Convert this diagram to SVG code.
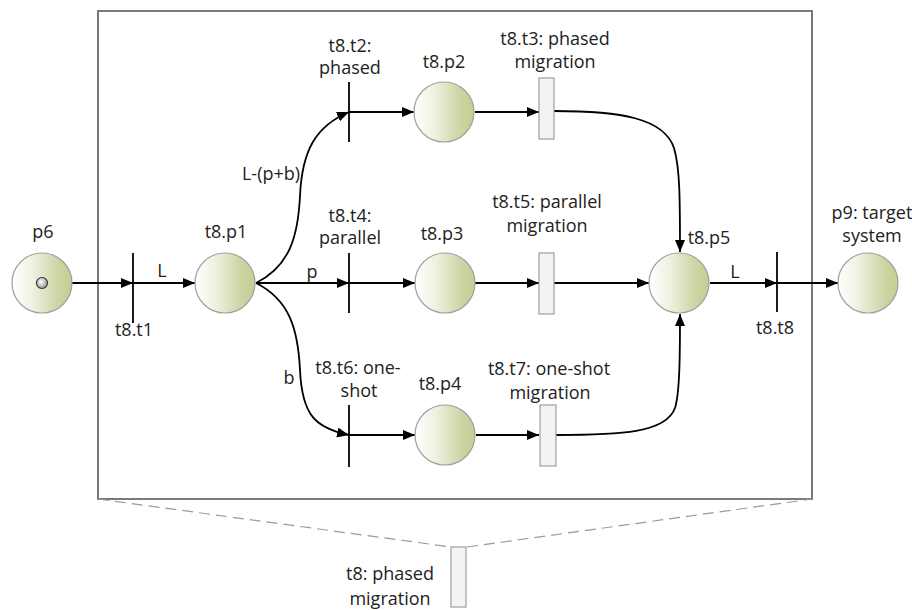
<svg xmlns="http://www.w3.org/2000/svg" width="912" height="610" viewBox="0 0 912 610">
  <defs>
    <linearGradient id="placeFill" x1="0" y1="0" x2="1" y2="0">
      <stop offset="0" stop-color="#ffffff"/>
      <stop offset="0.35" stop-color="#eef1e0"/>
      <stop offset="0.75" stop-color="#cdd6a6"/>
      <stop offset="1" stop-color="#c3cd92"/>
    </linearGradient>
    <radialGradient id="tokenFill" cx="0.4" cy="0.4" r="0.7">
      <stop offset="0" stop-color="#ffffff"/>
      <stop offset="1" stop-color="#8a8a8a"/>
    </radialGradient>
    <marker id="arrow" viewBox="0 0 12 10" refX="12" refY="5" markerWidth="12" markerHeight="10" markerUnits="userSpaceOnUse" orient="auto">
      <path d="M0,0 L12,5 L0,10 z" fill="#000"/>
    </marker>
    <style>
      .place { fill: url(#placeFill); stroke: #a0a0a0; stroke-width: 1.2; }
      .bar { stroke: #000; stroke-width: 1.8; }
      .rect { fill: #f3f3f3; stroke: #a0a0a0; stroke-width: 1.2; }
      .arc { fill: none; stroke: #000; stroke-width: 1.8; }
      .lbl { font-family: "Open Sans", "Liberation Sans", sans-serif; font-size: 18px; fill: #222; text-anchor: middle; }
      .frame { fill: none; stroke: #7a7a7a; stroke-width: 2; }
      .zoom { fill: none; stroke: #9a9a9a; stroke-width: 1.2; stroke-dasharray: 11 6; }
    </style>
  </defs>

  <!-- subnet frame and zoom-out lines to t8 -->
  <rect class="frame" x="98" y="11" width="714" height="488"/>
  <g id="zoom-lines">
    <path class="zoom" d="M98,499 L451,547"/>
    <path class="zoom" d="M467,547 L812,499"/>
  </g>

  <!-- connectors -->
  <g id="connectors">
    <path class="arc" d="M72,283 L133,283" marker-end="url(#arrow)"/>
    <path class="arc" d="M133,283 L195,283" marker-end="url(#arrow)"/>
    <path class="arc" d="M256,283 C290,266 298,236 300,196 C302,150 316,126 349,112" marker-end="url(#arrow)"/>
    <path class="arc" d="M256,283 L349,283" marker-end="url(#arrow)"/>
    <path class="arc" d="M256,283 C290,300 298,330 300,370 C302,416 316,428 349,435" marker-end="url(#arrow)"/>
    <path class="arc" d="M349,112 L414,112" marker-end="url(#arrow)"/>
    <path class="arc" d="M349,283 L415,283" marker-end="url(#arrow)"/>
    <path class="arc" d="M349,435 L415,435" marker-end="url(#arrow)"/>
    <path class="arc" d="M475,112 L539,112" marker-end="url(#arrow)"/>
    <path class="arc" d="M475,283 L539,283" marker-end="url(#arrow)"/>
    <path class="arc" d="M476,435 L539,435" marker-end="url(#arrow)"/>
    <path class="arc" d="M554,111 C620,111 664,118 674,148 C680,168 680,200 680,252" marker-end="url(#arrow)"/>
    <path class="arc" d="M554,283 L649,283" marker-end="url(#arrow)"/>
    <path class="arc" d="M556,435 C620,435 666,433 675,408 C680,392 680,350 680,314" marker-end="url(#arrow)"/>
    <path class="arc" d="M710,283 L777,283" marker-end="url(#arrow)"/>
    <path class="arc" d="M777,283 L838,283" marker-end="url(#arrow)"/>
    <text class="lbl" x="162" y="277">L</text>
    <text class="lbl" x="271" y="180">L-(p+b)</text>
    <text class="lbl" x="312" y="278">p</text>
    <text class="lbl" x="289" y="384">b</text>
    <text class="lbl" x="735" y="278">L</text>
  </g>

  <!-- places -->
  <g id="p6">
    <circle class="place" cx="42" cy="283" r="30"/>
    <circle cx="42" cy="283" r="5.5" fill="url(#tokenFill)" stroke="#333" stroke-width="1.2"/>
    <text class="lbl" x="43" y="238">p6</text>
  </g>
  <g id="t8.p1">
    <circle class="place" cx="225" cy="283" r="30"/>
    <text class="lbl" x="226" y="238">t8.p1</text>
  </g>
  <g id="t8.p2">
    <circle class="place" cx="444" cy="112" r="30"/>
    <text class="lbl" x="444" y="68">t8.p2</text>
  </g>
  <g id="t8.p3">
    <circle class="place" cx="445" cy="283" r="30"/>
    <text class="lbl" x="442" y="240">t8.p3</text>
  </g>
  <g id="t8.p4">
    <circle class="place" cx="445" cy="435" r="30"/>
    <text class="lbl" x="440" y="390">t8.p4</text>
  </g>
  <g id="t8.p5">
    <circle class="place" cx="679" cy="283" r="30"/>
    <text class="lbl" x="709" y="244">t8.p5</text>
  </g>
  <g id="p9">
    <circle class="place" cx="868" cy="283" r="30"/>
    <text class="lbl" x="872" y="219">p9: target</text>
    <text class="lbl" x="872" y="242">system</text>
  </g>

  <!-- immediate transitions -->
  <g id="t8.t1">
    <line class="bar" x1="133" y1="253" x2="133" y2="323"/>
    <text class="lbl" x="134" y="336">t8.t1</text>
  </g>
  <g id="t8.t2">
    <line class="bar" x1="349" y1="82" x2="349" y2="142"/>
    <text class="lbl" x="350" y="52">t8.t2:</text>
    <text class="lbl" x="350" y="74">phased</text>
  </g>
  <g id="t8.t4">
    <line class="bar" x1="349" y1="253" x2="349" y2="313"/>
    <text class="lbl" x="350" y="222">t8.t4:</text>
    <text class="lbl" x="350" y="244">parallel</text>
  </g>
  <g id="t8.t6">
    <line class="bar" x1="349" y1="405" x2="349" y2="467"/>
    <text class="lbl" x="358" y="374">t8.t6: one-</text>
    <text class="lbl" x="359" y="397">shot</text>
  </g>
  <g id="t8.t8">
    <line class="bar" x1="777" y1="252" x2="777" y2="312"/>
    <text class="lbl" x="775" y="334">t8.t8</text>
  </g>

  <!-- timed transitions -->
  <g id="t8.t3">
    <rect class="rect" x="539" y="78" width="15" height="61"/>
    <text class="lbl" x="555" y="45">t8.t3: phased</text>
    <text class="lbl" x="555" y="68">migration</text>
  </g>
  <g id="t8.t5">
    <rect class="rect" x="539" y="253" width="15" height="61"/>
    <text class="lbl" x="547" y="208">t8.t5: parallel</text>
    <text class="lbl" x="547" y="232">migration</text>
  </g>
  <g id="t8.t7">
    <rect class="rect" x="540" y="405" width="16" height="61"/>
    <text class="lbl" x="549" y="375">t8.t7: one-shot</text>
    <text class="lbl" x="550" y="399">migration</text>
  </g>
  <g id="t8">
    <rect class="rect" x="451" y="547" width="15" height="60"/>
    <text class="lbl" x="390" y="580">t8: phased</text>
    <text class="lbl" x="390" y="605">migration</text>
  </g>
</svg>
